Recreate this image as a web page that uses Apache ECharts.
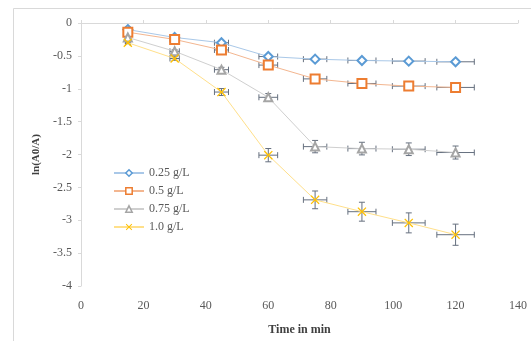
<!DOCTYPE html>
<html>
<head>
<meta charset="utf-8">
<script src="https://cdn.jsdelivr.net/npm/echarts@6/dist/echarts.min.js"></script>
<style>
  html, body { margin: 0; padding: 0; background: #ffffff; }
  #chart { width: 531px; height: 341px; }
</style>
</head>
<body>
<div id="chart"></div>
<script>
// Sampling times (min)
const times = [15, 30, 45, 60, 75, 90, 105, 120];
// Horizontal uncertainty on each time (min)
const timeErr = [0.75, 1.5, 2.25, 3, 3.75, 4.5, 5.25, 6];

// ln(A0/A) for each catalyst dose
const dose025 = [-0.10, -0.22, -0.30, -0.51, -0.55, -0.57, -0.58, -0.59];
const dose050 = [-0.14, -0.25, -0.41, -0.64, -0.85, -0.92, -0.96, -0.98];
const dose075 = [-0.22, -0.43, -0.71, -1.13, -1.88, -1.91, -1.92, -1.97];
const dose100 = [-0.30, -0.54, -1.05, -2.01, -2.69, -2.87, -3.04, -3.22];

// Vertical uncertainty on ln(A0/A)
const err025 = [0.005, 0.011, 0.015, 0.026, 0.028, 0.029, 0.029, 0.030];
const err050 = [0.007, 0.013, 0.021, 0.032, 0.043, 0.046, 0.048, 0.049];
const err075 = [0.011, 0.022, 0.036, 0.057, 0.094, 0.096, 0.096, 0.099];
const err100 = [0.015, 0.027, 0.053, 0.101, 0.135, 0.144, 0.152, 0.161];

const seriesNames = ['0.25 g/L', '0.5 g/L', '0.75 g/L', '1.0 g/L'];
const xTicks = [0, 20, 40, 60, 80, 100, 120, 140];

const groups = [
  { name: seriesNames[0], y: dose025, e: err025, color: '#5b9bd5', line: '#a9c8e8', symbol: 'diamond', size: 9 },
  { name: seriesNames[1], y: dose050, e: err050, color: '#ed7d31', line: '#f3b690', symbol: 'rect', size: 9 },
  { name: seriesNames[2], y: dose075, e: err075, color: '#a5a5a5', line: '#cfcfcf', symbol: 'triangle', size: 8 },
  { name: seriesNames[3], y: dose100, e: err100, color: '#ffc000', line: '#ffe08a',
    symbol: 'path://M1,0L5,4L9,0L10,1L6,5L10,9L9,10L5,6L1,10L0,9L4,5L0,1Z', size: 9 }
];

const barColor = '#66707f';

function errorBarItem(params, api) {
  const x = api.value(0), y = api.value(1), xe = api.value(2), ye = api.value(3);
  const c = api.coord([x, y]);
  const l = api.coord([x - xe, y]);
  const r = api.coord([x + xe, y]);
  const t = api.coord([x, y + ye]);
  const b = api.coord([x, y - ye]);
  const cap = 3;
  const style = { stroke: barColor, lineWidth: 1 };
  return {
    type: 'group',
    children: [
      { type: 'line', shape: { x1: l[0], y1: c[1], x2: r[0], y2: c[1] }, style },
      { type: 'line', shape: { x1: l[0], y1: c[1] - cap, x2: l[0], y2: c[1] + cap }, style },
      { type: 'line', shape: { x1: r[0], y1: c[1] - cap, x2: r[0], y2: c[1] + cap }, style },
      { type: 'line', shape: { x1: c[0], y1: t[1], x2: c[0], y2: b[1] }, style },
      { type: 'line', shape: { x1: c[0] - cap, y1: t[1], x2: c[0] + cap, y2: t[1] }, style },
      { type: 'line', shape: { x1: c[0] - cap, y1: b[1], x2: c[0] + cap, y2: b[1] }, style }
    ]
  };
}

const series = [];
groups.forEach(function (g) {
  series.push({
    name: g.name + ' err',
    type: 'custom',
    renderItem: errorBarItem,
    data: times.map(function (t, i) { return [t, g.y[i], timeErr[i], g.e[i]]; }),
    z: 2,
    silent: true
  });
});
groups.forEach(function (g, k) {
  const hollow = k < 3;
  series.push({
    name: g.name,
    type: 'line',
    data: times.map(function (t, i) { return [t, g.y[i]]; }),
    symbol: g.symbol,
    symbolSize: g.size,
    showAllSymbol: true,
    lineStyle: { color: g.line, width: 1 },
    itemStyle: hollow
      ? { color: '#ffffff', borderColor: g.color, borderWidth: 2 }
      : { color: g.color, borderWidth: 0 },
    z: 3
  });
});

const serif = '"Liberation Serif", "DejaVu Serif", serif';

const option = {
  animation: false,
  backgroundColor: '#ffffff',
  graphic: [{
    type: 'rect',
    shape: { x: 13.5, y: 8.5, width: 540, height: 360 },
    style: { fill: 'none', stroke: '#d9d9d9', lineWidth: 1 },
    z: -1
  }],
  grid: { left: 81, right: 13, top: 23, bottom: 52 },
  legend: {
    data: seriesNames.map(function (n, k) {
      return { name: n, itemStyle: k < 3 ? { color: '#ffffff', borderColor: groups[k].color, borderWidth: 1.5 } : { color: groups[k].color } };
    }),
    orient: 'vertical',
    left: 108,
    top: 162,
    itemWidth: 30,
    itemHeight: 8,
    itemGap: 6,
    textStyle: { fontFamily: serif, fontSize: 12, color: '#595959' }
  },
  xAxis: [{
    type: 'value',
    min: 0, max: 140, interval: 20,
    position: 'bottom',
    name: 'Time in min',
    nameLocation: 'middle',
    nameGap: 38,
    nameTextStyle: { fontFamily: serif, fontSize: 12, fontWeight: 'bold', color: '#404040' },
    axisLine: { show: false, onZero: false },
    axisTick: { show: false },
    splitLine: { show: false },
    axisLabel: {
      margin: 14, fontFamily: serif, fontSize: 12, color: '#595959',
      formatter: function (v) { return xTicks.indexOf(v) >= 0 ? String(v) : ''; }
    }
  }, {
    type: 'value',
    min: 0, max: 140, interval: 20,
    position: 'top',
    axisLine: { show: true, onZero: false, lineStyle: { color: '#d9d9d9' } },
    axisTick: { show: true, inside: false, length: 3, lineStyle: { color: '#d9d9d9' } },
    axisLabel: { show: false },
    splitLine: { show: false }
  }],
  yAxis: {
    type: 'value',
    min: -4, max: 0, interval: 0.5,
    name: 'ln(A0/A)',
    nameLocation: 'middle',
    nameGap: 37,
    nameTextStyle: { fontFamily: serif, fontSize: 11, fontWeight: 'bold', color: '#404040' },
    axisLine: { show: true, lineStyle: { color: '#d9d9d9' } },
    axisTick: { show: true, length: 3, lineStyle: { color: '#d9d9d9' } },
    splitLine: { show: false },
    axisLabel: { margin: 9, fontFamily: serif, fontSize: 12, color: '#595959' }
  },
  series: series
};

const chart = echarts.init(document.getElementById('chart'), null, { renderer: 'canvas' });
chart.setOption(option);
</script>
</body>
</html>
